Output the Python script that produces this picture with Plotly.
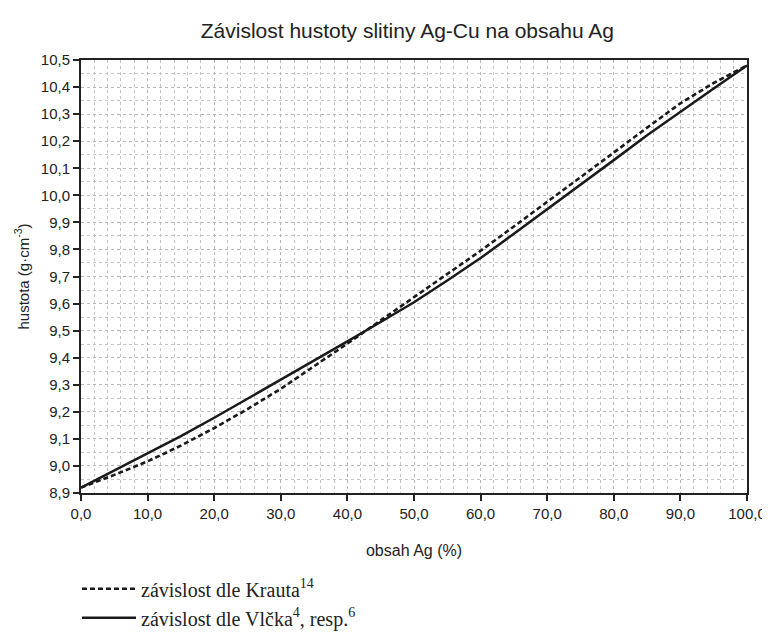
import plotly.graph_objects as go

ag = [0, 5, 10, 15, 20, 25, 30, 35, 40, 45, 50, 55, 60, 65, 70, 75, 80, 85, 90, 95, 100]
kraut = [8.92, 8.967, 9.017, 9.075, 9.14, 9.21, 9.285, 9.368, 9.452, 9.538, 9.623, 9.708,
         9.795, 9.885, 9.975, 10.065, 10.158, 10.25, 10.34, 10.415, 10.48]
vlcek = [8.92, 8.983, 9.045, 9.11, 9.178, 9.248, 9.318, 9.39, 9.46, 9.532, 9.605, 9.685,
         9.768, 9.858, 9.948, 10.038, 10.13, 10.222, 10.31, 10.395, 10.48]

name_kraut = "závislost dle Krauta<sup>14</sup>"
name_vlcek = "závislost dle Vlčka<sup>4</sup>, resp.<sup>6</sup>"

fig = go.Figure()
fig.add_trace(go.Scatter(x=ag, y=kraut, mode="lines", name=name_kraut, legendgroup="a",
                         line=dict(color="#1a1a1a", width=2.6, dash="5px,3px")))
fig.add_trace(go.Scatter(x=ag, y=vlcek, mode="lines", name=name_vlcek, legendgroup="b",
                         line=dict(color="#1a1a1a", width=2.5)))

axis_font = dict(family="Liberation Sans, Arial", size=15, color="#222")
title_font = dict(family="Liberation Sans, Arial", size=16, color="#222")

fig.update_layout(
    width=770, height=641,
    margin=dict(l=73, r=23, t=52, b=150),
    paper_bgcolor="white", plot_bgcolor="white",
    separators=", ",
    title=dict(text="Závislost hustoty slitiny Ag-Cu na obsahu Ag",
               font=dict(family="Liberation Sans, Arial", size=21, color="#222"),
               x=0.49, xref="paper", xanchor="center", y=0.965, yref="container", yanchor="middle"),
    showlegend=True,
    legend=dict(x=-0.006, y=-0.176, xref="paper", yref="paper", xanchor="left", yanchor="top",
                font=dict(family="Liberation Serif, Times New Roman", size=20, color="#222"),
                itemwidth=54, tracegroupgap=0, traceorder="grouped",
                bgcolor="rgba(0,0,0,0)"),
    xaxis=dict(range=[0, 100], dtick=10, tick0=0, tickformat=".1f",
               showline=True, linecolor="#222", linewidth=2, mirror=True,
               ticks="outside", ticklen=6, tickcolor="#222", tickwidth=1.5,
               showgrid=True, gridcolor="#b8b8b8", gridwidth=1, griddash="dot",
               minor=dict(dtick=2, showgrid=True, gridcolor="#c4c4c4", gridwidth=1, griddash="dot"),
               zeroline=False, tickfont=axis_font,
               title=dict(text="obsah Ag (%)", font=title_font, standoff=24)),
    yaxis=dict(range=[8.9, 10.5], dtick=0.1, tick0=8.9, tickformat=".1f",
               showline=True, linecolor="#222", linewidth=2, mirror=True,
               ticks="outside", ticklen=6, tickcolor="#222", tickwidth=1.5,
               showgrid=True, gridcolor="#b8b8b8", gridwidth=1, griddash="dot",
               minor=dict(dtick=0.05, showgrid=True, gridcolor="#c4c4c4", gridwidth=1, griddash="dot"),
               zeroline=False, tickfont=axis_font,
               title=dict(text="hustota (g·cm<sup>-3</sup>)", font=axis_font, standoff=8)),
)

fig.write_html("out.html")
